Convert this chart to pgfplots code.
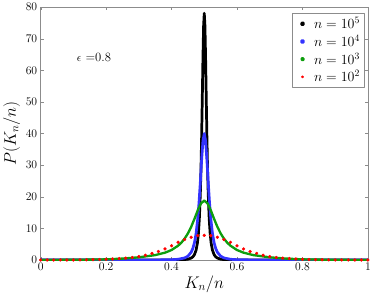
\documentclass[border=0pt]{standalone}
\usepackage{pgfplots}
\pgfplotsset{compat=1.18}
\definecolor{mblue}{rgb}{0.2,0.2,1}
\definecolor{mgreen}{rgb}{0.05,0.62,0.05}
\begin{document}
\begin{tikzpicture}
\begin{axis}[
 scale only axis, width=335bp, height=259bp,
 xmin=0,xmax=1,ymin=0,ymax=80,
 xtick={0,0.2,0.4,0.6,0.8,1}, ytick={0,10,...,80},
 tick align=inside, axis line style={black!45}, tick style={black!45},
 major tick length=3bp,
 tick label style={font=\fontsize{12.5}{14}\selectfont},
 xlabel={$K_n/n$}, ylabel={$P(K_n/n)$},
 label style={font=\fontsize{16.5}{18}\selectfont},
 xlabel style={yshift=2pt},
 ylabel style={yshift=-1pt},
 legend style={at={(0.988,0.975)},anchor=north east, draw=black!45, font=\fontsize{14}{16}\selectfont, row sep=1pt, inner sep=2pt},
 legend cell align=left,
 line join=round
]
\addplot[black, line width=2.8pt, legend image code/.code={\fill[black] (0,0) circle (1.2pt); \path (-0.25cm,0) (0.3cm,0);}] coordinates {
(0,0) (0.3,0) (0.35,0.005) (0.4,0.018) (0.42,0.044) (0.44,0.135) (0.45,0.27) (0.46,0.62) (0.465,1.0) (0.47,1.71) (0.475,3.12) (0.479,5.34) (0.482,8.26) (0.485,13.1) (0.488,21.1) (0.49,29.0) (0.492,39.3) (0.494,51.5) (0.496,64.2) (0.498,74.2) (0.5,78)
(0.502,74.2) (0.504,64.2) (0.506,51.5) (0.508,39.3) (0.51,29.0) (0.512,21.1) (0.515,13.1) (0.518,8.26) (0.521,5.34) (0.525,3.12) (0.53,1.71) (0.535,1.0) (0.54,0.62) (0.55,0.27) (0.56,0.135) (0.58,0.044) (0.6,0.018) (0.65,0.005) (0.7,0) (1,0)};
\addlegendentry{$n=10^5$}
\addplot[mblue, line width=2.8pt, legend image code/.code={\fill[mblue] (0,0) circle (1.2pt); \path (-0.25cm,0) (0.3cm,0);}] coordinates {
(0,0) (0.25,0) (0.3,0.007) (0.35,0.021) (0.4,0.10) (0.42,0.233) (0.44,0.66) (0.45,1.22) (0.46,2.47) (0.465,3.64) (0.47,5.48) (0.475,8.41) (0.48,13.0) (0.484,18.2) (0.488,24.7) (0.492,31.8) (0.496,37.7) (0.5,40)
(0.504,37.7) (0.508,31.8) (0.512,24.7) (0.516,18.2) (0.52,13.0) (0.525,8.41) (0.53,5.48) (0.535,3.64) (0.54,2.47) (0.55,1.22) (0.56,0.66) (0.58,0.233) (0.6,0.10) (0.65,0.021) (0.7,0.007) (0.75,0) (1,0)};
\addlegendentry{$n=10^4$}
\addplot[mgreen, line width=2.4pt, legend image code/.code={\fill[mgreen] (0,0) circle (1.2pt); \path (-0.25cm,0) (0.3cm,0);}] coordinates {
(0,0) (0.1,0.05) (0.2,0.2) (0.25,0.45) (0.3,0.85) (0.35,1.55) (0.38,2.32) (0.4,3.16) (0.42,4.52) (0.43,5.50) (0.44,6.77) (0.45,8.41) (0.46,10.5) (0.47,13.0) (0.48,15.7) (0.49,17.9) (0.5,18.8)
(0.51,17.9) (0.52,15.7) (0.53,13.0) (0.54,10.5) (0.55,8.41) (0.56,6.77) (0.57,5.50) (0.58,4.52) (0.6,3.16) (0.62,2.32) (0.65,1.55) (0.7,0.85) (0.75,0.45) (0.8,0.2) (0.9,0.05) (1,0)};
\addlegendentry{$n=10^3$}
\addplot[red, only marks, mark=*, mark size=1.5pt, legend image code/.code={\fill[red] (0,0) circle (1.2pt); \path (-0.25cm,0) (0.3cm,0);}] coordinates {
(0,0) (0.02,0) (0.04,0) (0.06,0.01) (0.08,0.01) (0.1,0.03) (0.12,0.04) (0.14,0.07) (0.16,0.1) (0.18,0.15) (0.2,0.22) (0.22,0.32) (0.24,0.45) (0.26,0.6) (0.28,0.8) (0.3,1.1) (0.32,1.5) (0.34,2.1) (0.36,2.7) (0.38,3.5) (0.4,4.5) (0.42,5.6) (0.44,6.5) (0.46,7.2) (0.48,7.7) (0.5,7.8)
(0.52,7.7) (0.54,7.2) (0.56,6.5) (0.58,5.6) (0.6,4.5) (0.62,3.5) (0.64,2.7) (0.66,2.1) (0.68,1.5) (0.7,1.1) (0.72,0.8) (0.74,0.6) (0.76,0.45) (0.78,0.32) (0.8,0.22) (0.82,0.15) (0.84,0.1) (0.86,0.07) (0.88,0.04) (0.9,0.03) (0.92,0.01) (0.94,0.01) (0.96,0) (0.98,0) (1,0)};
\addlegendentry{$n=10^2$}
\node[font=\fontsize{13}{15}\selectfont, anchor=west] at (axis cs:0.1,64) {$\epsilon$ =0.8};
\end{axis}
\end{tikzpicture}
\end{document}
